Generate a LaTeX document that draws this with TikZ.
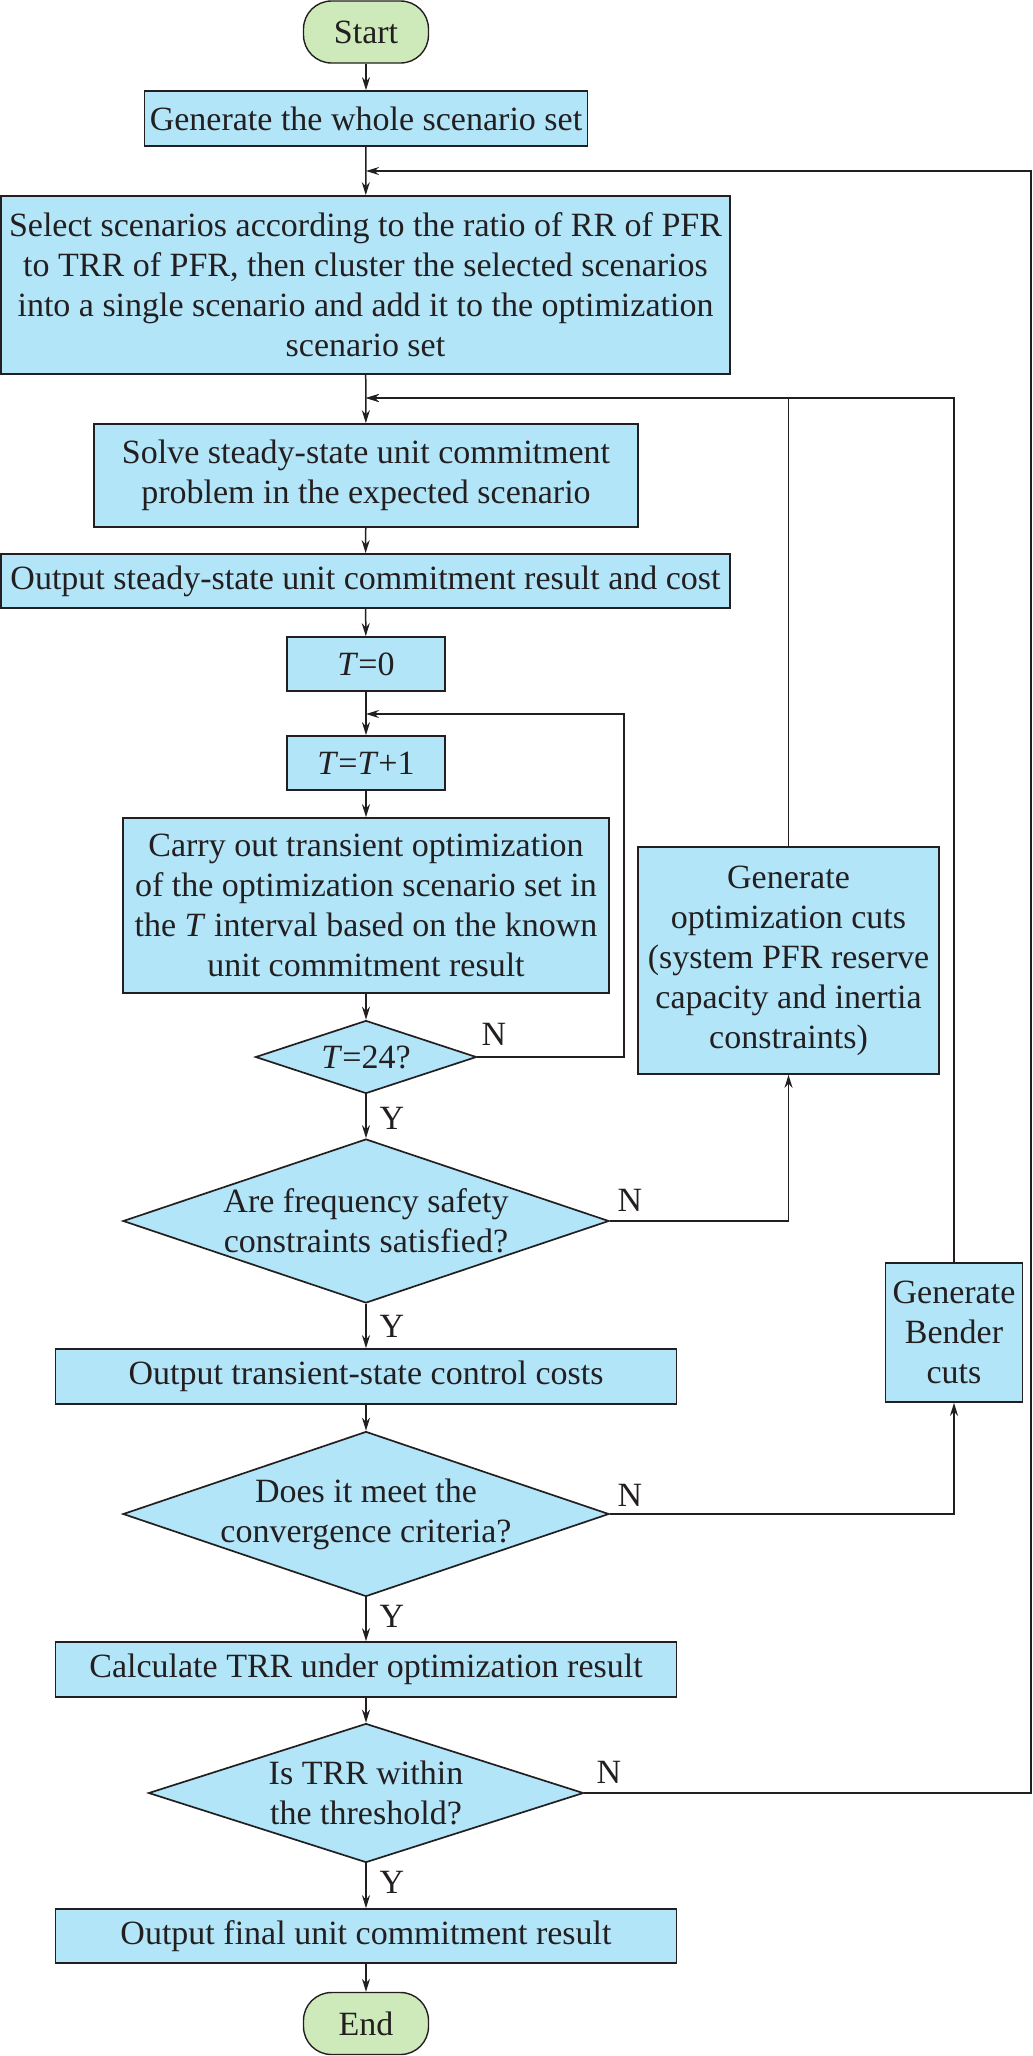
\documentclass[tikz,border=0pt]{standalone}
\usepackage{fontspec}
\setmainfont{Liberation Serif}
\usetikzlibrary{shapes.geometric,arrows.meta}
\definecolor{boxblue}{RGB}{178,229,248}
\definecolor{termgreen}{RGB}{206,234,186}
\definecolor{edgec}{RGB}{35,31,32}
\begin{document}
\begin{tikzpicture}[x=1pt,y=-1pt,
  every node/.style={font=\fontsize{34}{40}\selectfont, text=edgec},
  proc/.style={draw=edgec, line width=1.7pt, fill=boxblue, inner sep=0pt, align=center},
  term/.style={draw=edgec, line width=1.4pt, fill=termgreen, rounded corners=28pt, inner sep=0pt, minimum width=125pt, minimum height=62pt},
  dec/.style={diamond, draw=edgec, line width=1.7pt, fill=boxblue, inner sep=0pt},
  lbl/.style={inner sep=0pt, align=center},
  conn/.style={draw=edgec, line width=1.5pt, -{Stealth[length=13pt,width=8pt]}},
]
\useasboundingbox (0,0) rectangle (1033,2056);

% nodes
\node[term] (start) at (366,32) {Start};
\node[proc, minimum width=443pt, minimum height=55pt] (gen) at (366,118.5) {Generate the whole scenario set};
\node[proc, minimum width=729pt, minimum height=178pt] (sel) at (365.5,285) {Select scenarios according to the ratio of RR of PFR\\to TRR of PFR, then cluster the selected scenarios\\into a single scenario and add it to the optimization\\scenario set};
\node[proc, minimum width=544pt, minimum height=103pt] (solve) at (366,475.5) {Solve steady-state unit commitment\\problem in the expected scenario};
\node[proc, minimum width=729pt, minimum height=54pt] (outss) at (365.5,581) {Output steady-state unit commitment result and cost};
\node[proc, minimum width=158pt, minimum height=54pt] (t0) at (366,664) {\textit{T}=0};
\node[proc, minimum width=158pt, minimum height=54pt] (t1) at (366,763) {\textit{T}=\textit{T}+1};
\node[proc, minimum width=486pt, minimum height=175pt] (carry) at (366,905.5) {Carry out transient optimization\\of the optimization scenario set in\\the \textit{T} interval based on the known\\unit commitment result};
\node[dec, minimum width=221pt, minimum height=73pt] (d24) at (366,1057) {};
\node[lbl] (d24t) at (d24.center) {\textit{T}=24?};
\node[proc, minimum width=301pt, minimum height=227pt] (gencuts) at (788.5,960.5) {Generate\\optimization cuts\\(system PFR reserve\\capacity and inertia\\constraints)};
\node[dec, minimum width=486pt, minimum height=164pt] (freq) at (366,1221) {};
\node[lbl] (freqt) at (freq.center) {Are frequency safety\\constraints satisfied?};
\node[proc, minimum width=621pt, minimum height=55pt] (outtr) at (366,1376.5) {Output transient-state control costs};
\node[dec, minimum width=486pt, minimum height=165pt] (conv) at (366,1514) {};
\node[lbl] (convt) at (conv.center) {Does it meet the\\convergence criteria?};
\node[proc, minimum width=137pt, minimum height=139pt] (bender) at (954,1332.5) {Generate\\Bender\\cuts};
\node[proc, minimum width=621pt, minimum height=55pt] (calc) at (366,1669.5) {Calculate TRR under optimization result};
\node[dec, minimum width=435pt, minimum height=139pt] (trr) at (366,1793) {};
\node[lbl] (trrt) at (trr.center) {Is TRR within\\the threshold?};
\node[proc, minimum width=621pt, minimum height=54pt] (final) at (366,1936) {Output final unit commitment result};
\node[term] (end) at (366,2023.5) {End};

% junction coordinates
\coordinate (topin) at (366,171);
\coordinate (topr) at (1031,171);
\coordinate (midin) at (366,398);
\coordinate (loopin) at (366,714);
\coordinate (loopr) at (624,714);

% main flow
\draw[conn] (start) -- (gen);
\draw[conn] (gen) -- (sel);
\draw[conn] (sel) -- (solve);
\draw[conn] (solve) -- (outss);
\draw[conn] (outss) -- (t0);
\draw[conn] (t0) -- (t1);
\draw[conn] (t1) -- (carry);
\draw[conn] (carry) -- (d24);
\draw[conn] (d24) -- (freq);
\draw[conn] (freq) -- (outtr);
\draw[conn] (outtr) -- (conv);
\draw[conn] (conv) -- (calc);
\draw[conn] (calc) -- (trr);
\draw[conn] (trr) -- (final);
\draw[conn] (final) -- (end);

% loops
\draw[conn] (d24.east) -| (loopr) -- (loopin);
\draw[conn] (freq.east) -| (gencuts.south);
\draw[conn] (gencuts.north) |- (midin);
\draw[conn] (conv.east) -| (bender.south);
\draw[conn] (bender.north) |- (midin);
\draw[conn] (trr.east) -| (topr) -- (topin);

% labels
\node[lbl] (n1) at (494,1034) {N};
\node[lbl] (y1) at (392,1118) {Y};
\node[lbl] (n2) at (630,1200) {N};
\node[lbl] (y2) at (392,1326) {Y};
\node[lbl] (n3) at (630,1495) {N};
\node[lbl] (y3) at (392,1616) {Y};
\node[lbl] (n4) at (609,1772) {N};
\node[lbl] (y4) at (392,1882) {Y};
\end{tikzpicture}
\end{document}
